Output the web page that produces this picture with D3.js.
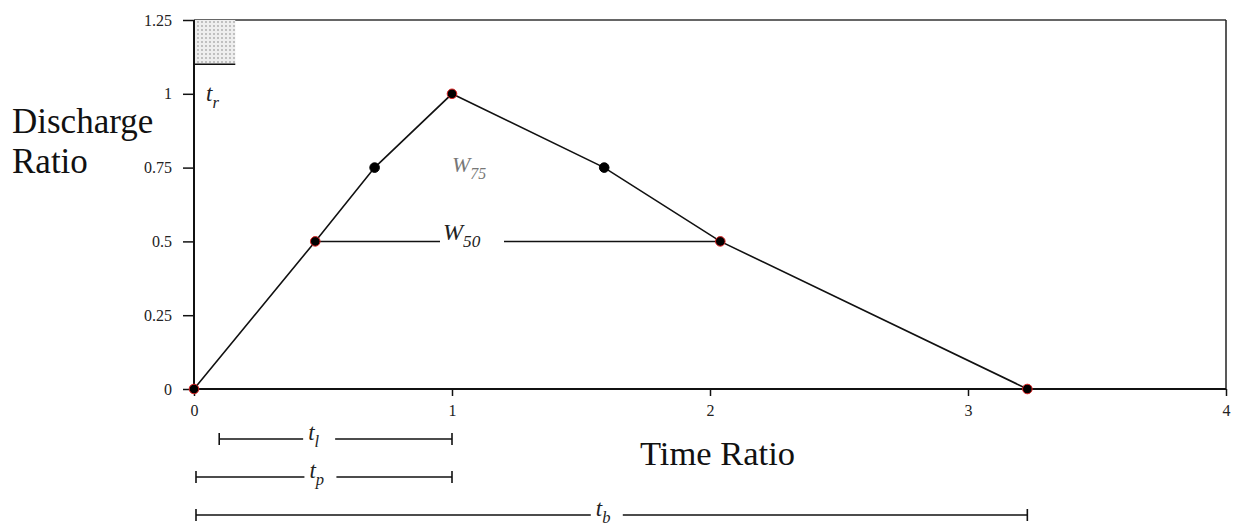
<!DOCTYPE html>
<html>
<head>
<meta charset="utf-8">
<script src="https://cdn.jsdelivr.net/npm/d3@7"></script>
<style>
  body { margin: 0; background: #fff; }
  svg { display: block; font-family: "Liberation Serif", "Times New Roman", serif; }
</style>
</head>
<body>
<div id="container"></div>
<script>
// unit hydrograph points
const timeRatio = [0, 0.47, 0.70, 1, 1.59, 2.04, 3.23];
const dischargeRatio = [0, 0.5, 0.75, 1, 0.75, 0.5, 0];
const redEdge = [true, true, false, true, false, true, true];

const xTicks = [0, 1, 2, 3, 4];
const yTicks = [0, 0.25, 0.5, 0.75, 1, 1.25];
const yTickLabels = ["0", "0.25", "0.5", "0.75", "1", "1.25"];

// rainfall duration block
const trBlock = { x0: 0, x1: 0.16, y0: 1.1, y1: 1.25 };

// W50 width line
const w50 = { x0: 0.47, x1: 2.04, y: 0.5 };

// time annotation bars
const spans = [
  { name: "l", x0: 0.09, x1: 1, labelX: 0.485 },
  { name: "p", x0: 0, x1: 1, labelX: 0.49 },
  { name: "b", x0: 0, x1: 3.23, labelX: 1.6 }
];

const width = 1235;
const height = 527;
const marginTop = 20;
const marginRight = 9;
const marginBottom = 138;
const marginLeft = 194;

const x = d3.scaleLinear()
  .domain([0, 4])
  .range([marginLeft, width - marginRight]);

const y = d3.scaleLinear()
  .domain([0, 1.25])
  .range([height - marginBottom, marginTop]);

const svg = d3.create("svg")
  .attr("width", width)
  .attr("height", height);

// frame top and right
svg.append("line")
  .attr("x1", x(0)).attr("x2", x(4))
  .attr("y1", y(1.25)).attr("y2", y(1.25))
  .attr("stroke", "#666").attr("stroke-width", 2);
svg.append("line")
  .attr("x1", x(4)).attr("x2", x(4))
  .attr("y1", y(1.25)).attr("y2", y(0))
  .attr("stroke", "#222").attr("stroke-width", 1.5);

// shaded tr block
const defs = svg.append("defs");
const pat = defs.append("pattern")
  .attr("id", "dots")
  .attr("width", 4).attr("height", 4)
  .attr("patternUnits", "userSpaceOnUse");
pat.append("rect").attr("width", 4).attr("height", 4).attr("fill", "#eee");
pat.append("circle").attr("cx", 2).attr("cy", 2).attr("r", 0.9).attr("fill", "#aaa");

svg.append("rect")
  .attr("x", x(trBlock.x0))
  .attr("y", y(trBlock.y1))
  .attr("width", x(trBlock.x1) - x(trBlock.x0))
  .attr("height", y(trBlock.y0) - y(trBlock.y1))
  .attr("fill", "url(#dots)");
svg.append("line")
  .attr("x1", x(trBlock.x0)).attr("x2", x(trBlock.x1))
  .attr("y1", y(trBlock.y0)).attr("y2", y(trBlock.y0))
  .attr("stroke", "#111").attr("stroke-width", 1.5);

// axes
const xAxis = svg.append("g")
  .attr("transform", `translate(0,${y(0)})`)
  .call(d3.axisBottom(x).tickValues(xTicks).tickFormat(d3.format("d")).tickSize(7).tickPadding(9));

const yAxis = svg.append("g")
  .attr("transform", `translate(${x(0)},0)`)
  .call(d3.axisLeft(y).tickValues(yTicks).tickFormat((d, i) => yTickLabels[i]).tickSize(11).tickPadding(11));

[xAxis, yAxis].forEach(g => {
  g.select(".domain").attr("stroke", "#111").attr("stroke-width", 2);
  g.selectAll(".tick line").attr("stroke", "#111").attr("stroke-width", 1.5);
  g.selectAll(".tick text")
    .attr("font-family", "Liberation Serif, serif")
    .attr("font-size", 16)
    .attr("fill", "#222");
});
xAxis.select(".domain").attr("d", `M${x(0)},0H${x(4)}`);
yAxis.select(".domain").attr("d", `M0,${y(0)}V${y(1.25)}`);

// W50 line with gap for label
const gapL = 440, gapR = 504;
svg.append("line")
  .attr("x1", x(w50.x0)).attr("x2", gapL)
  .attr("y1", y(w50.y)).attr("y2", y(w50.y))
  .attr("stroke", "#111").attr("stroke-width", 1.5);
svg.append("line")
  .attr("x1", gapR).attr("x2", x(w50.x1))
  .attr("y1", y(w50.y)).attr("y2", y(w50.y))
  .attr("stroke", "#111").attr("stroke-width", 1.5);

// hydrograph
const pts = timeRatio.map((t, i) => [t, dischargeRatio[i], redEdge[i]]);
svg.append("path")
  .datum(pts)
  .attr("fill", "none")
  .attr("stroke", "#111")
  .attr("stroke-width", 1.6)
  .attr("d", d3.line().x(d => x(d[0])).y(d => y(d[1])));

svg.append("g")
  .selectAll("circle")
  .data(pts)
  .join("circle")
  .attr("cx", d => x(d[0]))
  .attr("cy", d => y(d[1]))
  .attr("r", 4.8)
  .attr("fill", "#000")
  .attr("stroke", d => d[2] ? "#d22" : "#000")
  .attr("stroke-width", 1);

// labels
function sublabel(px, py, main, sub, size, color) {
  const t = svg.append("text")
    .attr("x", px).attr("y", py)
    .attr("font-style", "italic")
    .attr("font-size", size)
    .attr("fill", color);
  t.append("tspan").text(main);
  t.append("tspan")
    .attr("dy", size * 0.3)
    .attr("font-size", size * 0.72)
    .text(sub);
  return t;
}

sublabel(206, 101, "t", "r", 23, "#222");
sublabel(443, 240, "W", "50", 24, "#222");
sublabel(452, 172, "W", "75", 22, "#777");

svg.append("text")
  .attr("x", 12).attr("y", 133)
  .attr("font-size", 35)
  .attr("fill", "#111")
  .text("Discharge");
svg.append("text")
  .attr("x", 12).attr("y", 173)
  .attr("font-size", 35)
  .attr("fill", "#111")
  .text("Ratio");

svg.append("text")
  .attr("x", 640).attr("y", 465)
  .attr("font-size", 34.5)
  .attr("fill", "#111")
  .text("Time Ratio");

// annotation bars
const barY = [439, 477, 515];
spans.forEach((s, i) => {
  const yy = barY[i];
  const lx = x(s.labelX);
  const g = svg.append("g").attr("stroke", "#111").attr("stroke-width", 1.6);
  g.append("line").attr("x1", x(s.x0) + 2).attr("x2", lx - 16).attr("y1", yy).attr("y2", yy);
  g.append("line").attr("x1", lx + 16).attr("x2", x(s.x1)).attr("y1", yy).attr("y2", yy);
  g.append("line").attr("x1", x(s.x0) + 2).attr("x2", x(s.x0) + 2).attr("y1", yy - 6).attr("y2", yy + 6);
  g.append("line").attr("x1", x(s.x1)).attr("x2", x(s.x1)).attr("y1", yy - 6).attr("y2", yy + 6);
  sublabel(lx - 11, yy + 1, "t", s.name, 23, "#222");
});

d3.select("#container").append(() => svg.node());
</script>
</body>
</html>
